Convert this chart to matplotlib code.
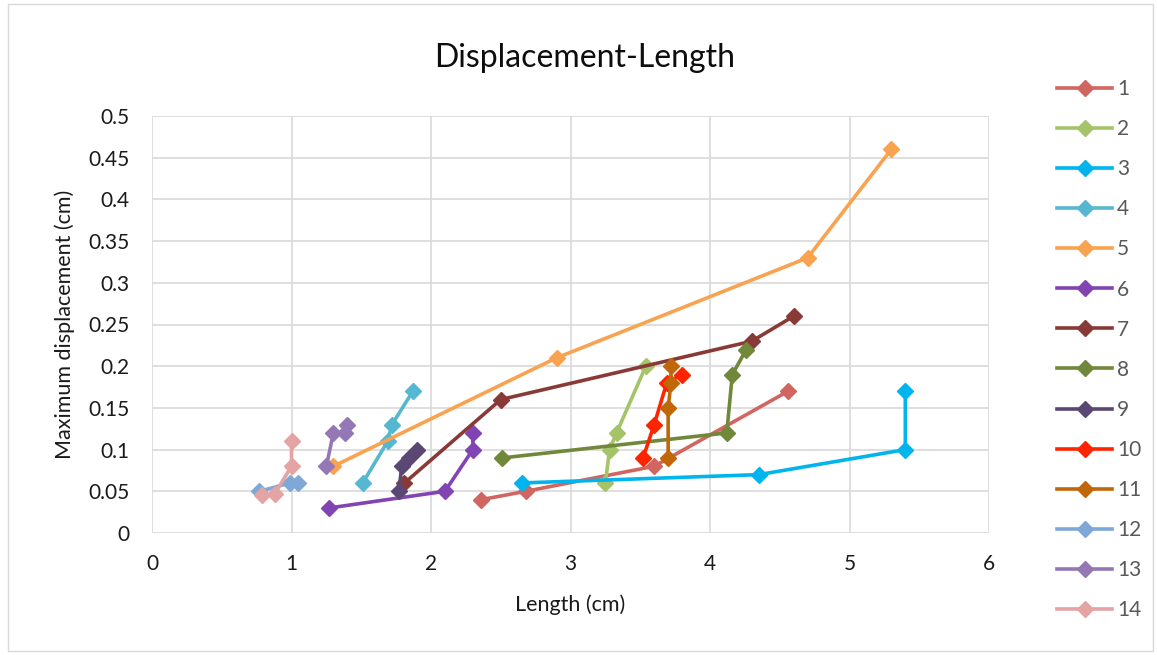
import matplotlib
matplotlib.use("Agg")
import matplotlib.pyplot as plt
from matplotlib.patches import Rectangle

plt.rcParams["font.family"] = ["Lato", "DejaVu Sans"]

# series data (length cm, max displacement cm)
s1_x = [2.36, 2.68, 3.6, 4.56]
s1_y = [0.04, 0.05, 0.08, 0.17]
s2_x = [3.25, 3.28, 3.33, 3.54]
s2_y = [0.06, 0.10, 0.12, 0.20]
s3_x = [2.65, 4.35, 5.4, 5.4]
s3_y = [0.06, 0.07, 0.10, 0.17]
s4_x = [1.51, 1.69, 1.72, 1.87]
s4_y = [0.06, 0.11, 0.13, 0.17]
s5_x = [1.3, 2.9, 4.7, 5.3]
s5_y = [0.08, 0.21, 0.33, 0.46]
s6_x = [1.27, 2.1, 2.3, 2.3]
s6_y = [0.03, 0.05, 0.10, 0.12]
s7_x = [1.81, 2.5, 4.3, 4.6]
s7_y = [0.06, 0.16, 0.23, 0.26]
s8_x = [2.51, 4.12, 4.16, 4.26]
s8_y = [0.09, 0.12, 0.19, 0.22]
s9_x = [1.77, 1.79, 1.84, 1.9]
s9_y = [0.05, 0.08, 0.09, 0.10]
s10_x = [3.52, 3.6, 3.69, 3.8]
s10_y = [0.09, 0.13, 0.18, 0.19]
s11_x = [3.7, 3.7, 3.72, 3.72]
s11_y = [0.09, 0.15, 0.18, 0.20]
s12_x = [0.77, 0.99, 1.05]
s12_y = [0.05, 0.06, 0.06]
s13_x = [1.25, 1.3, 1.38, 1.4]
s13_y = [0.08, 0.12, 0.12, 0.13]
s14_x = [0.79, 0.88, 1.0, 1.0]
s14_y = [0.045, 0.047, 0.08, 0.11]

labels = [str(i) for i in range(1, 15)]
colors = ["#D0665F", "#A5C46A", "#00B4EE", "#55B7D0", "#F9A24F", "#8244B2",
          "#8A3A36", "#71883A", "#5B4774", "#FF2400", "#C0670A", "#7FA8D8",
          "#9478B6", "#E3A4A3"]

series = [(s1_x, s1_y), (s2_x, s2_y), (s3_x, s3_y), (s4_x, s4_y), (s5_x, s5_y),
          (s6_x, s6_y), (s7_x, s7_y), (s8_x, s8_y), (s9_x, s9_y), (s10_x, s10_y),
          (s11_x, s11_y), (s12_x, s12_y), (s13_x, s13_y), (s14_x, s14_y)]

fig = plt.figure(figsize=(11.57, 6.55), dpi=100)
ax = fig.add_axes([152 / 1157, 1 - 533 / 655, 837 / 1157, 417 / 655])

for (xs, ys), lab, col in zip(series, labels, colors):
    ax.plot(xs, ys, "-D", color=col, lw=2.6, ms=8, label=lab)

ax.set_xlim(0, 6)
ax.set_ylim(0, 0.5)
ax.set_xticks([0, 1, 2, 3, 4, 5, 6])
ax.set_yticks([0, 0.05, 0.1, 0.15, 0.2, 0.25, 0.3, 0.35, 0.4, 0.45, 0.5])
ax.set_yticklabels(["0", "0.05", "0.1", "0.15", "0.2", "0.25", "0.3", "0.35",
                    "0.4", "0.45", "0.5"])
ax.grid(True, color="#D9D9D9", lw=1.2)
ax.set_axisbelow(True)
for sp in ax.spines.values():
    sp.set_visible(False)
ax.tick_params(length=0, labelsize=15, colors="#1A1A1A")
ax.tick_params(axis="y", pad=16)
ax.tick_params(axis="x", pad=15)

ax.set_xlabel("Length (cm)", fontsize=15.5, color="#1A1A1A", labelpad=15)
ax.set_ylabel("Maximum displacement (cm)", fontsize=15.5, color="#1A1A1A", labelpad=10)
fig.text(585 / 1157, 1 - 58 / 655, "Displacement-Length", fontsize=23,
         color="#0D0D0D", ha="center", va="center")

fig.legend(loc="upper left", bbox_to_anchor=(1057 / 1157, 1 - 79 / 655),
           frameon=False, fontsize=15, handlelength=2.64, labelspacing=0.965,
           handletextpad=0.25, borderpad=0, borderaxespad=0,
           labelcolor="#595959")

fig.patches.append(Rectangle((8 / 1157, 4 / 655), 1145 / 1157, 647 / 655,
                             transform=fig.transFigure, fill=False,
                             edgecolor="#D9D9D9", lw=1))

fig.savefig("out.png", dpi=100)
